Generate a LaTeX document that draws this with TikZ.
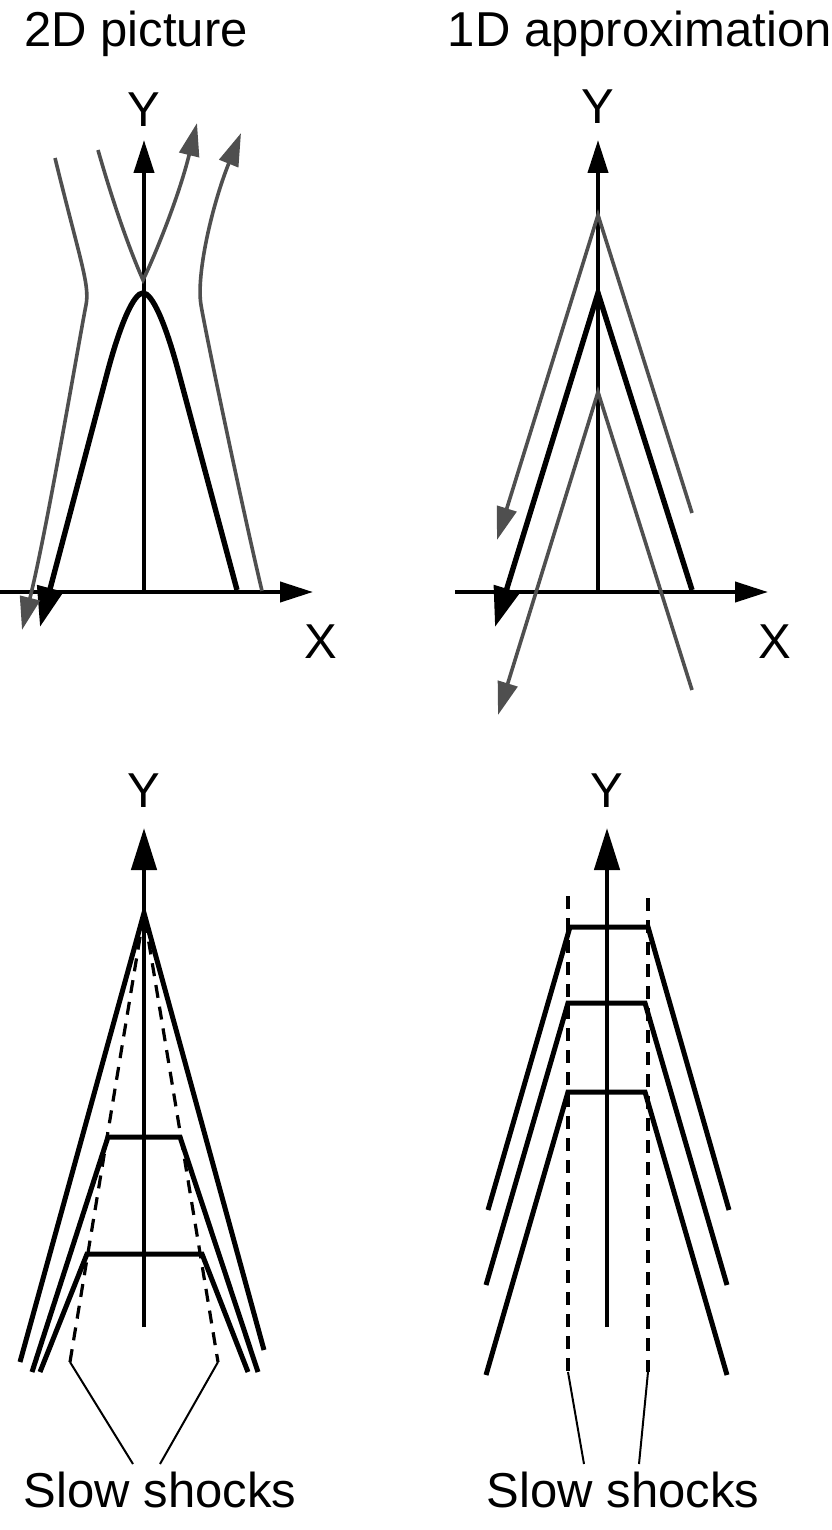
\documentclass[tikz,border=0pt]{standalone}
\usepackage{fontspec}
\setmainfont{Liberation Sans}
\usetikzlibrary{arrows.meta}
\definecolor{flowcol}{rgb}{0.31,0.31,0.31}

\begin{document}
\begin{tikzpicture}[x=0.5pt, y=-0.5pt,
    axis/.style={draw=black, line width=2pt, -{Triangle[length=16.5pt, width=10pt]}},
    bigaxis/.style={draw=black, line width=2.3pt, -{Triangle[length=21pt, width=12.5pt]}},
    fieldline/.style={draw=black, line width=2.7pt},
    fieldarrow/.style={fieldline, -{Triangle[length=20pt, width=13pt]}},
    flowline/.style={draw=flowcol, line width=1.8pt},
    flowarrow/.style={flowline, -{Triangle[length=16.5pt, width=10pt]}},
    shock/.style={draw=black, line width=2.5pt},
    slowshock/.style={draw=black, line width=1.6pt, dash pattern=on 6.5pt off 4.5pt},
    pointer/.style={draw=black, line width=1pt},
    lbl/.style={inner sep=0pt, anchor=base, font=\fontsize{24.5}{29}\selectfont}
  ]
  \useasboundingbox (0,0) rectangle (831,1530);

  % 2D picture
  \coordinate (o2d) at (144,592);
  \coordinate (y2d) at (144,140);
  \coordinate (xs2d) at (0,592);
  \coordinate (xe2d) at (313,592);
  \coordinate (fr2d) at (237,590);
  \coordinate (fl2d) at (40,627);
  \coordinate (gis2d) at (98,150);
  \coordinate (gic2d) at (143,280);
  \coordinate (gie2d) at (197,123);
  \coordinate (gls2d) at (55,158);
  \coordinate (gle2d) at (22,630);
  \coordinate (grs2d) at (262,591);
  \coordinate (gre2d) at (241,133);

  \draw[axis] (xs2d) -- (xe2d);
  \draw[axis] (o2d) -- (y2d);
  \draw[fieldarrow] (fr2d) -- (178,370) .. controls (165,322) and (152,293) .. (143,293)
    .. controls (134,293) and (121,322) .. (108,370) -- (fl2d);
  \draw[flowarrow] (gis2d) .. controls (118,220) and (135,262) .. (gic2d)
    .. controls (152,262) and (178,200) .. (gie2d);
  \draw[flowarrow] (gls2d) .. controls (80,260) and (90,285) .. (86,305)
    .. controls (80,335) and (47,530) .. (gle2d);
  \draw[flowarrow] (grs2d) .. controls (243,511) and (206,335) .. (201,305)
    .. controls (196,275) and (212,205) .. (gre2d);

  \node[lbl] (t2d) at (136,47) {2D picture};
  \node[lbl] (ylab2d) at (144,127) {Y};
  \node[lbl] (xlab2d) at (321,658) {X};

  % 1D approximation
  \coordinate (o1d) at (598,592);
  \coordinate (y1d) at (598,140);
  \coordinate (xs1d) at (455,592);
  \coordinate (xe1d) at (768,592);

  \draw[axis] (xs1d) -- (xe1d);
  \draw[axis] (o1d) -- (y1d);
  \draw[fieldarrow] (692,590) -- (598,293) -- (495,627);
  \draw[flowarrow] (692,513) -- (598,215) -- (497,540);
  \draw[flowarrow] (692,690) -- (598,392) -- (498,715);

  \node[lbl] (t1d) at (640,47) {1D approximation};
  \node[lbl] (ylab1d) at (598,124) {Y};
  \node[lbl] (xlab1d) at (775,658) {X};

  % 2D shocks
  \coordinate (ob2d) at (144,1327);
  \coordinate (yb2d) at (144,828);
  \coordinate (apex) at (144,913);
  \coordinate (sl2d) at (70,1362);
  \coordinate (sr2d) at (218,1362);
  \coordinate (txt2d) at (160,1507);

  \draw[bigaxis] (ob2d) -- (yb2d);
  \draw[shock] (20,1362) -- (apex) -- (264,1350);
  \draw[shock] (32,1372) -- (108,1137) -- (180,1137) -- (258,1372);
  \draw[shock] (40,1372) -- (87,1254) -- (202,1254) -- (248,1372);
  \draw[slowshock] (sl2d) -- (apex) -- (sr2d);
  \draw[pointer] (sl2d) -- (133,1464);
  \draw[pointer] (sr2d) -- (160,1464);

  \node[lbl] (ylabb2d) at (144,807) {Y};
  \node[lbl] (slow2d) at (txt2d) {Slow shocks};

  % 1D shocks
  \coordinate (ob1d) at (607,1327);
  \coordinate (yb1d) at (607,828);
  \coordinate (slt1d) at (568,896);
  \coordinate (srt1d) at (648,898);
  \coordinate (sl1d) at (568,1372);
  \coordinate (sr1d) at (648,1372);
  \coordinate (txt1d) at (623,1507);

  \draw[bigaxis] (ob1d) -- (yb1d);
  \draw[shock] (488,1210) -- (570,927) -- (648,927) -- (729,1210);
  \draw[shock] (486,1285) -- (568,1003) -- (645,1003) -- (727,1285);
  \draw[shock] (486,1375) -- (568,1092) -- (645,1092) -- (727,1375);
  \draw[slowshock] (slt1d) -- (sl1d);
  \draw[slowshock] (srt1d) -- (sr1d);
  \draw[pointer] (sl1d) -- (584,1464);
  \draw[pointer] (sr1d) -- (639,1464);

  \node[lbl] (ylabb1d) at (607,807) {Y};
  \node[lbl] (slow1d) at (txt1d) {Slow shocks};
\end{tikzpicture}
\end{document}
